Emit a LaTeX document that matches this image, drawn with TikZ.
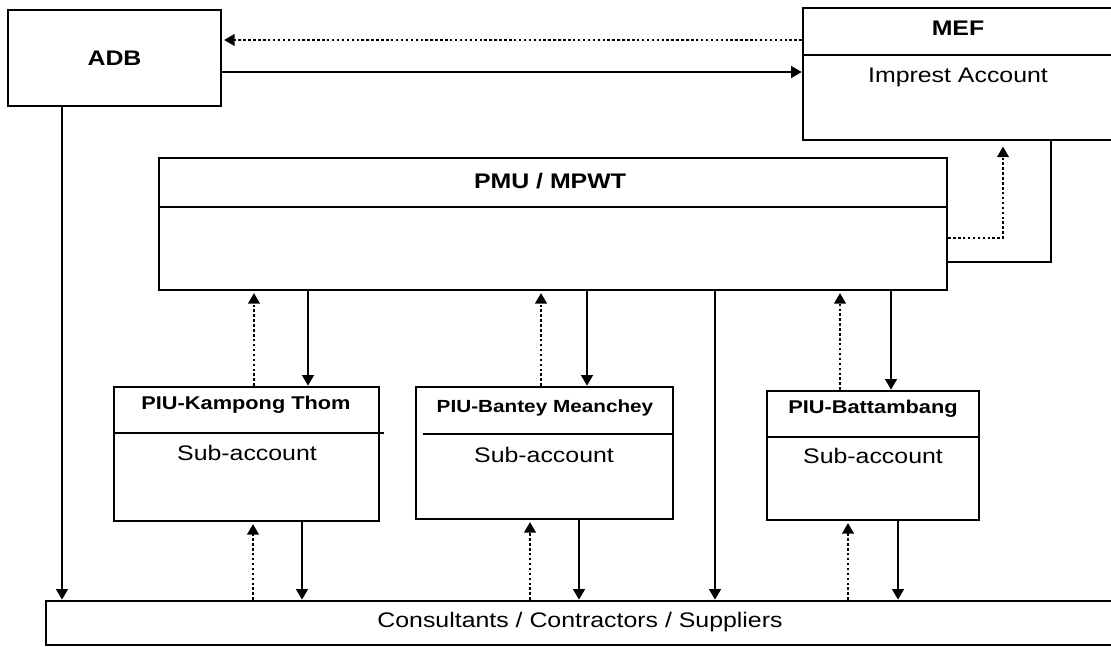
\documentclass[tikz,border=0pt]{standalone}
\usepackage{fontspec}
\setmainfont{Liberation Sans}[FakeStretch=1.18]
\usetikzlibrary{arrows.meta, positioning}
\tikzset{
  pane/.style={
    rectangle, draw=black, line width=1.45pt, inner sep=0pt
  },
  title/.style={
    font=\bfseries\fontsize{12}{14}\selectfont, inner sep=0pt
  },
  piutitle/.style={
    font=\bfseries\fontsize{10.5}{12}\selectfont, inner sep=0pt
  },
  account/.style={
    font=\fontsize{12}{14}\selectfont, inner sep=0pt
  },
  link/.style={
    line width=1.45pt
  },
  arrow/.style={
    -{Triangle[length=6pt,width=6.5pt]}, line width=1.45pt
  },
  dotarrow/.style={
    arrow, dash pattern=on 1.4pt off 1.4pt, shorten >=1pt
  }
}

\begin{document}
\begin{tikzpicture}[x=0.02cm, y=-0.02cm]
\useasboundingbox (0,0) rectangle (1111,646);

% Top row
\node[pane, minimum width=4.26cm, minimum height=1.92cm] (adb) at (114.5,58) {};
\node[title] (adbname) at (adb) {ADB};
\node[pane, minimum width=6.2cm, minimum height=2.64cm] (mef) at (958,74) {};
\draw[link] (mef.west |- 0,55) -- (mef.east |- 0,55);
\node[title] (mefname) at (958,28) {MEF};
\node[account] (mefacc) at (958,77) {Imprest Account};

% PMU
\node[pane, minimum width=15.76cm, minimum height=2.64cm] (pmu) at (553,224) {};
\draw[link] (pmu.west |- 0,207) -- (pmu.east |- 0,207);
\node[title] (pmuname) at (550,181) {PMU / MPWT};

% PIUs
\node[pane, minimum width=5.3cm, minimum height=2.68cm] (piukt) at (246.5,454) {};
\draw[link] (piukt.west |- 0,433) -- (384,433);
\node[piutitle] (kttitle) at (246,405) {PIU-Kampong Thom};
\node[account] (ktacc) at (247,453) {Sub-account};

\node[pane, minimum width=5.14cm, minimum height=2.64cm] (piubm) at (544.5,453) {};
\draw[link] (423,434) -- (piubm.east |- 0,434);
\node[piutitle, font=\bfseries\fontsize{10}{12}\selectfont] (bmtitle) at (545,408) {PIU-Bantey Meanchey};
\node[account] (bmacc) at (544,455) {Sub-account};

\node[pane, minimum width=4.24cm, minimum height=2.58cm] (piubb) at (873,455.5) {};
\draw[link] (piubb.west |- 0,437) -- (piubb.east |- 0,437);
\node[piutitle] (bbtitle) at (873,409) {PIU-Battambang};
\node[account] (bbacc) at (873,456) {Sub-account};

% Consultants
\node[pane, minimum width=21.34cm, minimum height=0.88cm] (consult) at (579.5,623) {};
\node[account] (consultname) at (580,622) {Consultants / Contractors / Suppliers};

% ADB <-> MEF
\draw[dotarrow] (mef.west |- 0,40) -- (adb.east |- 0,40);
\draw[arrow] (adb.east |- 0,72) -- (mef.west |- 0,72);
\draw[arrow] (62,0 |- adb.south) -- (62,0 |- consult.north);

% PMU <-> MEF
\draw[dotarrow, shorten >=3pt] (pmu.east |- 0,238) -| (1003,0 |- mef.south);
\draw[link] (1051,0 |- mef.south) |- (pmu.east |- 0,262);

% PMU <-> PIUs
\draw[dotarrow] (254,0 |- piukt.north) -- (254,0 |- pmu.south);
\draw[arrow] (308,0 |- pmu.south) -- (308,0 |- piukt.north);
\draw[dotarrow] (541,0 |- piubm.north) -- (541,0 |- pmu.south);
\draw[arrow] (587,0 |- pmu.south) -- (587,0 |- piubm.north);
\draw[dotarrow] (840,0 |- piubb.north) -- (840,0 |- pmu.south);
\draw[arrow] (891,0 |- pmu.south) -- (891,0 |- piubb.north);
\draw[arrow] (715,0 |- pmu.south) -- (715,0 |- consult.north);

% PIUs <-> consultants
\draw[dotarrow] (253,0 |- consult.north) -- (253,0 |- piukt.south);
\draw[arrow] (302,0 |- piukt.south) -- (302,0 |- consult.north);
\draw[dotarrow] (530,0 |- consult.north) -- (530,0 |- piubm.south);
\draw[arrow] (579,0 |- piubm.south) -- (579,0 |- consult.north);
\draw[dotarrow] (848,0 |- consult.north) -- (848,0 |- piubb.south);
\draw[arrow] (898,0 |- piubb.south) -- (898,0 |- consult.north);

\end{tikzpicture}
\end{document}
